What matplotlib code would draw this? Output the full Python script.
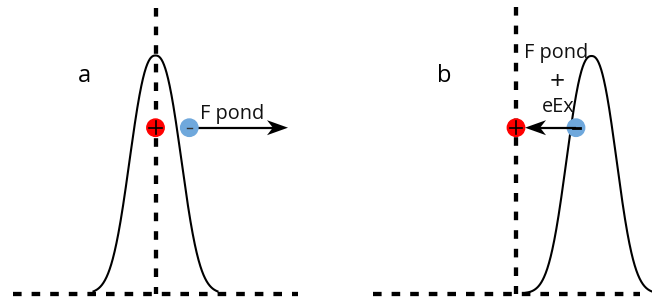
import numpy as np
import matplotlib
matplotlib.use("Agg")
import matplotlib.pyplot as plt
from matplotlib.patches import Circle

plt.rcParams["font.family"] = ["Open Sans", "DejaVu Sans"]
plt.rcParams["lines.scale_dashes"] = False

# pulse profiles (pixel coordinates of the sketch)
pulse_center = [155.5, 591.5]
pulse_half_base = [62, 66]
pulse_width = [32.5, 31.5]
pulse_order = [2.4, 2.4]
pulse_peak = [55.5, 56.0]
base_y = 293.5

# axis lines of each panel
h_start = [12.7, 372.7]
h_end = [298.0, 639.5]
v_x = [155.5, 516.0]
v_top = [8.3, 6.7]

# charges
ion_x = [155.5, 516.0]
electron_x = [189.3, 576.0]
charge_y = 127.7
charge_r = 8.7

# arrows (start, tip)
arrow_start = [198.0, 576.0]
arrow_tip = [288.0, 525.0]
head_len = 21.0
head_half = 7.5

panel_labels = ["a", "b"]
label_x = [84.0, 444.5]
label_y = 82.0

fig = plt.figure(figsize=(6.52, 3.01), dpi=100)
ax = fig.add_axes([0, 0, 1, 1])
ax.set_xlim(0, 652)
ax.set_ylim(301, 0)
ax.axis("off")

px = 0.72  # points per pixel
dash = (8.6 * px, 10.0 * px)

for i in range(2):
    # pulse
    x = np.linspace(pulse_center[i] - pulse_half_base[i], pulse_center[i] + pulse_half_base[i], 400)
    h = base_y - pulse_peak[i]
    y = base_y - h * np.exp(-np.abs((x - pulse_center[i]) / pulse_width[i]) ** pulse_order[i])
    ax.plot(x, y, color="black", lw=1.5, zorder=3)

    # dashed axes
    ax.plot([h_start[i], h_end[i]], [base_y, base_y], color="black", lw=3.1,
            dashes=dash, dash_capstyle="butt", zorder=2)
    ax.plot([v_x[i], v_x[i]], [v_top[i], base_y], color="black", lw=3.1,
            dashes=dash, dash_capstyle="butt", zorder=2)

    # ion (+)
    ax.add_patch(Circle((ion_x[i], charge_y), charge_r, color="#ff0000", zorder=5))
    ax.plot([ion_x[i] - 6.3, ion_x[i] + 6.3], [charge_y, charge_y], color="black", lw=1.2, zorder=6)
    ax.plot([ion_x[i], ion_x[i]], [charge_y - 6.3, charge_y + 6.3], color="black", lw=1.2, zorder=6)

    # electron (-)
    ax.add_patch(Circle((electron_x[i], charge_y), charge_r, color="#6fa8dc", zorder=5))

    # arrow with stealth head
    d = np.sign(arrow_tip[i] - arrow_start[i])
    tip = arrow_tip[i]
    back = tip - d * head_len
    notch = tip - d * head_len * 0.72
    ax.plot([arrow_start[i], notch], [charge_y, charge_y], color="black", lw=1.6,
            solid_capstyle="butt", zorder=4 + 3 * i)
    ax.fill([tip, back, notch, back], [charge_y, charge_y - head_half, charge_y, charge_y + head_half],
            color="black", lw=0, zorder=4 + 3 * i)

    ax.text(label_x[i], label_y, panel_labels[i], fontsize=17, ha="center", va="baseline")

# minus signs
ax.plot([electron_x[0] - 2.2, electron_x[0] + 2.2], [charge_y, charge_y], color="#333333", lw=1.0, zorder=6)
ax.plot([electron_x[1] - 3.5, electron_x[1] + 3.5], [charge_y, charge_y], color="black", lw=2.0, zorder=8)

ax.text(232.5, 118.8, "F pond", fontsize=14.3, color="#111111", ha="center", va="baseline")
ax.text(556.3, 58.3, "F pond", fontsize=14.3, color="#111111", ha="center", va="baseline")
ax.text(556.7, 80.0, "+", fontsize=19, color="#111111", ha="center", va="center_baseline")
ax.text(558.3, 112.5, "eEx", fontsize=14.3, color="#111111", ha="center", va="baseline")

fig.savefig("out.png", dpi=100)
